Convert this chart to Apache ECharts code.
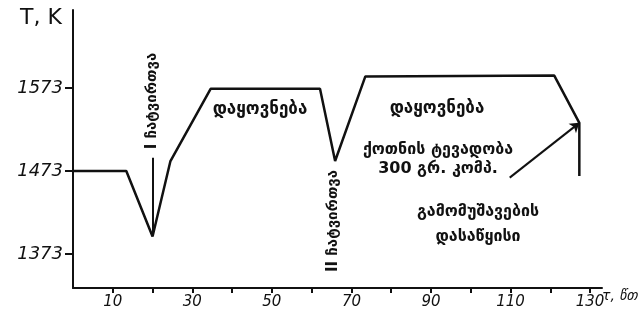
<!DOCTYPE html>
<html>
<head>
<meta charset="utf-8">
<script src="https://cdn.jsdelivr.net/npm/echarts@6/dist/echarts.min.js"></script>
<style>
  html, body { margin: 0; padding: 0; background: #fff; }
  #chart { width: 643px; height: 324px; }
</style>
</head>
<body>
<div id="chart"></div>
<script>
// time (min) and temperature (K) of the melt curve
const tau = [0, 13.4, 20, 24.5, 34.6, 62.1, 65.9, 73.5, 121, 127.3, 127.3];
const temp = [1473, 1473, 1394, 1485, 1572, 1572, 1485, 1587, 1588, 1531, 1467];
// axis ticks
const yTicks = [1373, 1473, 1573];
const xTicks = [10, 20, 30, 40, 50, 60, 70, 80, 90, 100, 110, 120, 130];
const xLabels = [10, 30, 50, 70, 90, 110, 130];
// first loading marker and the pointer to the start of output
const loadMark = [[20, 1396], [20, 1489]];
const arrow = [[109.8, 1465], [127.3, 1531]];

const ink = "#111";
const font = "DejaVu Sans";

const chart = echarts.init(document.getElementById("chart"));

chart.setOption({
  animation: false,
  backgroundColor: "#fff",
  grid: { left: 73, right: 41, top: 10, bottom: 36 },
  xAxis: {
    type: "value",
    min: 0,
    max: 133,
    axisLine: { lineStyle: { color: ink, width: 2 } },
    axisTick: { customValues: xTicks, length: 5, lineStyle: { color: ink, width: 2 } },
    axisLabel: {
      customValues: xLabels,
      color: ink,
      fontFamily: font,
      fontStyle: "italic",
      fontSize: 15,
      margin: 7,
      formatter: (v) => String(v),
    },
    splitLine: { show: false },
  },
  yAxis: {
    type: "value",
    min: 1332,
    max: 1667,
    axisLine: { show: true, lineStyle: { color: ink, width: 2 } },
    axisTick: { show: true, customValues: yTicks, length: 8, lineStyle: { color: ink, width: 2 } },
    axisLabel: {
      customValues: yTicks,
      color: ink,
      fontFamily: font,
      fontStyle: "italic",
      fontSize: 18,
      margin: 10,
      formatter: (v) => String(v),
    },
    splitLine: { show: false },
  },
  series: [
    {
      type: "line",
      data: tau.map((t, i) => [t, temp[i]]),
      symbol: "none",
      lineStyle: { color: ink, width: 2.5 },
      markLine: {
        silent: true,
        symbol: "none",
        label: { show: false },
        lineStyle: { color: ink, width: 2, type: "solid" },
        data: [
          [{ coord: loadMark[0] }, { coord: loadMark[1] }],
          [{ coord: arrow[0], symbol: "none" }, { coord: arrow[1], symbol: "arrow", symbolSize: 9 }],
        ],
      },
    },
  ],
  graphic: [
    { type: "text", left: 20, top: 7, style: { text: "T, K", font: "22px " + font, fill: ink } },
    { type: "text", left: 602, top: 289, style: { text: "τ, წთ", font: "italic 14px " + font, fill: ink } },
    { type: "text", x: 160, y: 101, rotation: Math.PI / 2,
      style: { text: "I ჩატვირთვა", font: "bold 15px " + font, fill: ink, align: "center", verticalAlign: "bottom" } },
    { type: "text", x: 341, y: 221, rotation: Math.PI / 2,
      style: { text: "II ჩატვირთვა", font: "bold 15px " + font, fill: ink, align: "center", verticalAlign: "bottom" } },
    { type: "text", x: 260, y: 110,
      style: { text: "დაყოვნება", font: "bold 17px " + font, fill: ink, align: "center", verticalAlign: "middle" } },
    { type: "text", x: 437, y: 109,
      style: { text: "დაყოვნება", font: "bold 17px " + font, fill: ink, align: "center", verticalAlign: "middle" } },
    { type: "text", x: 438, y: 159,
      style: { text: "ქოთნის ტევადობა\n300 გრ. კომპ.", font: "bold 16px " + font, lineHeight: 19, fill: ink, align: "center", verticalAlign: "middle" } },
    { type: "text", x: 478, y: 224,
      style: { text: "გამომუშავების\nდასაწყისი", font: "bold 16px " + font, lineHeight: 25, fill: ink, align: "center", verticalAlign: "middle" } },
  ],
});
</script>
</body>
</html>
